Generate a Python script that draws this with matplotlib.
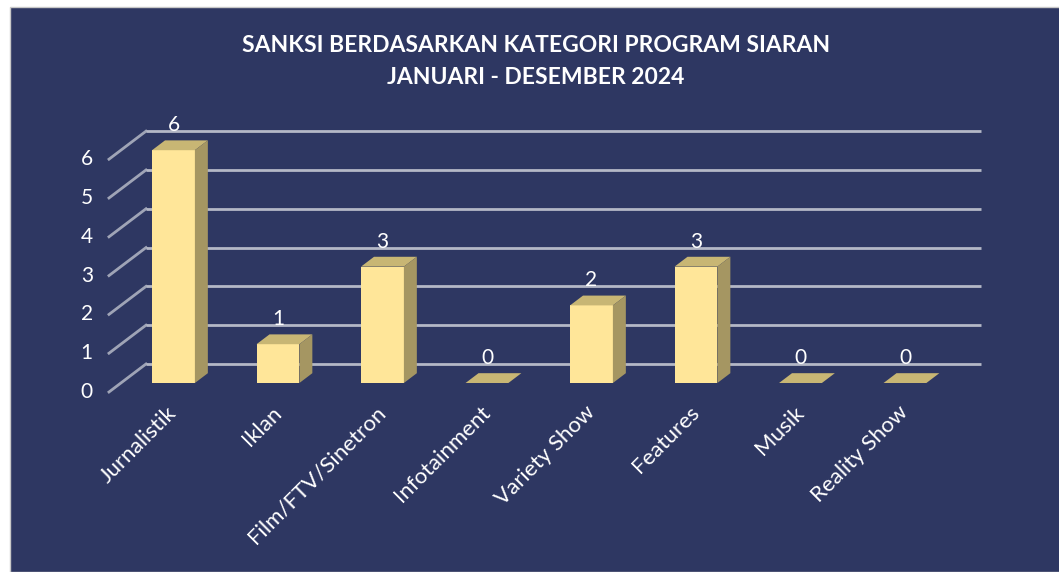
import matplotlib.pyplot as plt
from matplotlib.patches import Polygon, Rectangle

categories = ["Jurnalistik", "Iklan", "Film/FTV/Sinetron", "Infotainment",
              "Variety Show", "Features", "Musik", "Reality Show"]
values = [6, 1, 3, 0, 2, 3, 0, 0]
yticks = [0, 1, 2, 3, 4, 5, 6]
title1 = "SANKSI BERDASARKAN KATEGORI PROGRAM SIARAN"
title2 = "JANUARI - DESEMBER 2024"

NAVY = "#2E3762"
FRONT = "#FFE699"
TOP = "#C8B674"
SIDE = "#A59662"
GRID = "#B4B8C6"

plt.rcParams['font.family'] = ['Lato', 'DejaVu Sans']

W, H = 1059, 572
fig = plt.figure(figsize=(W / 100, H / 100), dpi=100, facecolor="white")
ax = fig.add_axes([0, 0, 1, 1])
ax.set_xlim(-1.660, 8.474)
ax.set_ylim(-4.871, 9.871)
ax.axis("off")
ax.add_patch(Rectangle((10 / W, 0), 1, 1 - 7 / H, transform=ax.transAxes,
                       facecolor=NAVY, edgecolor="#C8C8C8", lw=1, zorder=0))

# oblique depth offsets (category units, value units)
BX, BY = 0.241, 0.49      # bar front plane -> back wall
FX, FY = -0.113, -0.232   # bar front plane -> floor front
DX, DY = 0.124, 0.253     # bar depth
BW = 0.41
left_back, right_back = -0.263, 7.727

for v in yticks:
    yb = v + BY
    ax.plot([left_back, right_back], [yb, yb], color=GRID, lw=2, zorder=1,
            solid_capstyle="butt")
    ax.plot([left_back, left_back - (BX - FX)], [yb, v + FY], color=GRID,
            lw=2, alpha=0.85, zorder=1)
    ax.text(-0.83, v + FY, str(v), color="white", fontsize=15,
            ha="center", va="center", zorder=5)

xs = list(range(len(categories)))
ax.bar(xs, values, width=BW, bottom=0, color=FRONT, zorder=3)
for x, v in zip(xs, values):
    l, r = x - BW / 2, x + BW / 2
    ax.add_patch(Polygon([(l, v), (r, v), (r + DX, v + DY), (l + DX, v + DY)],
                         closed=True, facecolor=TOP, edgecolor="none", zorder=3))
    if v > 0:
        ax.add_patch(Polygon([(r, 0), (r, v), (r + DX, v + DY), (r + DX, DY)],
                             closed=True, facecolor=SIDE, edgecolor="none", zorder=3))
    ax.annotate(str(v), (x, v), xytext=(0, 18), textcoords="offset points",
                color="white", fontsize=15, ha="center", va="center", zorder=5)
    ax.annotate(categories[x], (x, 0), xytext=(-5, -14), textcoords="offset points",
                color="white", fontsize=16, rotation=45, ha="right", va="top",
                rotation_mode="anchor", zorder=5)

fig.text(536 / W, 1 - 45 / H, title1, color="white", fontsize=16.5,
         fontweight="bold", ha="center", va="center")
fig.text(536 / W, 1 - 77 / H, title2, color="white", fontsize=16.5,
         fontweight="bold", ha="center", va="center")

fig.savefig("out.png", dpi=100, facecolor="white")
